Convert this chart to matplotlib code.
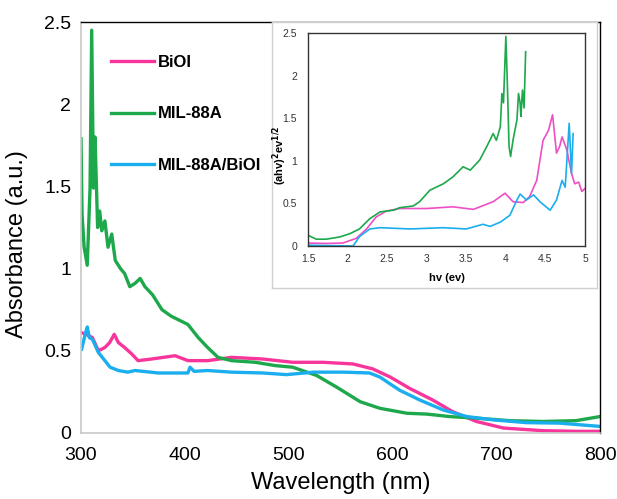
import matplotlib

matplotlib.use("Agg")

import matplotlib.pyplot as plt

plt.rcParams["font.family"] = ["Liberation Sans", "DejaVu Sans"]

# main spectra (wavelength in nm, absorbance in a.u.)
biol_wl = [300.6, 305, 311, 316.7, 323, 327.6, 332, 336, 342, 349, 355, 368, 390.6, 403,
           422, 445, 475, 504, 533, 562, 581, 598, 617, 639, 658, 681, 707, 745, 777, 800]
biol_abs = [0.61, 0.60, 0.58, 0.50, 0.52, 0.55, 0.60, 0.55, 0.52, 0.48, 0.44, 0.45, 0.47, 0.44,
            0.44, 0.46, 0.45, 0.43, 0.43, 0.42, 0.39, 0.34, 0.27, 0.20, 0.13, 0.07, 0.03, 0.014, 0.01, 0.01]

mil_wl = [300, 301, 303, 306, 308.7, 310.3, 312, 313.5, 316, 318, 320, 323, 326, 329.6, 333,
          338, 342, 347, 352, 357, 361.6, 369, 378, 387, 403, 413, 422, 432, 445, 468, 487,
          504, 527, 546, 569, 588, 614, 633, 655, 681, 713, 745, 777, 800]
mil_abs = [1.79, 1.33, 1.13, 1.02, 1.49, 2.45, 1.49, 1.80, 1.25, 1.35, 1.23, 1.29, 1.13, 1.21, 1.05,
           1.00, 0.97, 0.89, 0.91, 0.94, 0.89, 0.84, 0.75, 0.71, 0.66, 0.58, 0.52, 0.46, 0.44, 0.43, 0.41,
           0.40, 0.35, 0.28, 0.19, 0.15, 0.12, 0.115, 0.10, 0.09, 0.075, 0.07, 0.075, 0.10]

comp_wl = [300.6, 304, 306, 308, 311, 316.7, 323, 328, 336, 345, 352, 374.5, 403, 405, 409, 422,
           445, 475, 498, 524, 553, 578, 588, 607, 626.6, 649, 671.6, 697, 729, 761, 800]
comp_abs = [0.51, 0.60, 0.645, 0.58, 0.57, 0.49, 0.44, 0.40, 0.38, 0.37, 0.38, 0.365, 0.365, 0.40, 0.375, 0.38,
            0.37, 0.365, 0.355, 0.37, 0.37, 0.365, 0.34, 0.26, 0.20, 0.14, 0.10, 0.08, 0.063, 0.06, 0.04]

# inset Tauc plot (hv in eV)
biol_ev = [1.5, 1.73, 1.94, 2.11, 2.24, 2.36, 2.49, 2.66, 3.00, 3.33, 3.59, 3.84, 3.99, 4.09, 4.22,
           4.30, 4.39, 4.47, 4.54, 4.59, 4.64, 4.68, 4.71, 4.77, 4.83, 4.87, 4.92, 4.96, 5.0]
biol_tauc = [0.035, 0.03, 0.035, 0.09, 0.20, 0.34, 0.41, 0.44, 0.44, 0.46, 0.43, 0.52, 0.62, 0.52, 0.51,
             0.58, 0.77, 1.24, 1.36, 1.54, 1.09, 1.17, 1.28, 1.13, 0.85, 0.73, 0.75, 0.64, 0.675]

mil_ev = [1.5, 1.605, 1.73, 1.90, 2.03, 2.15, 2.28, 2.41, 2.58, 2.66, 2.83, 2.91, 3.04, 3.21, 3.33,
          3.46, 3.55, 3.63, 3.67, 3.76, 3.84, 3.88, 3.93, 3.95, 3.97, 4.00, 4.02, 4.04, 4.06, 4.09,
          4.14, 4.16, 4.18, 4.19, 4.21, 4.23, 4.25]
mil_tauc = [0.126, 0.08, 0.08, 0.106, 0.145, 0.20, 0.32, 0.40, 0.42, 0.45, 0.47, 0.52, 0.655, 0.73, 0.81,
            0.93, 0.89, 0.97, 1.01, 1.17, 1.32, 1.24, 1.40, 1.79, 1.68, 2.46, 1.87, 1.17, 1.05, 1.24,
            1.48, 1.79, 1.68, 1.52, 1.83, 1.62, 2.28]

comp_ev = [1.5, 1.73, 2.07, 2.15, 2.28, 2.41, 2.79, 3.21, 3.50, 3.71, 3.80, 3.93, 4.05, 4.14, 4.18,
           4.26, 4.35, 4.43, 4.56, 4.64, 4.71, 4.75, 4.80, 4.83, 4.85]
comp_tauc = [0.01, 0.005, 0.0, 0.11, 0.20, 0.215, 0.20, 0.215, 0.20, 0.255, 0.23, 0.28, 0.36, 0.54, 0.61,
             0.54, 0.60, 0.52, 0.42, 0.54, 0.77, 0.69, 1.44, 0.85, 1.32]

PINK = "#F8359A"
GREEN = "#1DA84C"
BLUE = "#1AAEEE"
INSET_PINK = "#EE4FC4"

fig = plt.figure(figsize=(6.17, 4.99), dpi=100)
ax = fig.add_axes([0.1313, 0.1323, 0.8411, 0.8236])

ax.plot(biol_wl, biol_abs, color=PINK, lw=2.4, label="BiOI")
ax.plot(mil_wl, mil_abs, color=GREEN, lw=2.4, label="MIL-88A")
ax.plot(comp_wl, comp_abs, color=BLUE, lw=2.4, label="MIL-88A/BiOI")

ax.set_xlim(300, 800)
ax.set_ylim(0, 2.5)
ax.set_xticks([300, 400, 500, 600, 700, 800])
ax.set_yticks([0, 0.5, 1, 1.5, 2, 2.5])
ax.set_yticklabels(["0", "0.5", "1", "1.5", "2", "2.5"])
ax.tick_params(length=0, labelsize=14)
ax.tick_params(axis="x", pad=10)
ax.tick_params(axis="y", pad=7)
ax.set_xlabel("Wavelength (nm)", fontsize=17, labelpad=6)
ax.set_ylabel("Absorbance (a.u.)", fontsize=17)
ax.yaxis.set_label_coords(-0.102, 0.459)
for side in ["left", "bottom"]:
    ax.spines[side].set_color("#c8c8c8")
    ax.spines[side].set_linewidth(1.2)
for side in ["top", "right"]:
    ax.spines[side].set_color("black")
    ax.spines[side].set_linewidth(1.0)

leg = ax.legend(loc="upper left", bbox_to_anchor=(0.028, 0.957), frameon=False,
                handlelength=2.6, handletextpad=0.25, labelspacing=2.2,
                prop={"weight": "bold", "size": 12})

# light grey frame around the inset picture
box = fig.add_axes([272 / 617, 1 - 288 / 499, 325 / 617, 266 / 499])
box.set_xticks([])
box.set_yticks([])
for spine in box.spines.values():
    spine.set_color("#d0d0d0")
    spine.set_linewidth(1.0)

inset = fig.add_axes([308 / 617, 1 - 246 / 499, 277 / 617, 213 / 499])
inset.plot(biol_ev, biol_tauc, color=INSET_PINK, lw=1.2)
inset.plot(mil_ev, mil_tauc, color=GREEN, lw=1.2)
inset.plot(comp_ev, comp_tauc, color=BLUE, lw=1.2)
inset.set_xlim(1.5, 5)
inset.set_ylim(0, 2.5)
inset.set_xticks([1.5, 2, 2.5, 3, 3.5, 4, 4.5, 5])
inset.set_xticklabels(["1.5", "2", "2.5", "3", "3.5", "4", "4.5", "5"])
inset.set_yticks([0, 0.5, 1, 1.5, 2, 2.5])
inset.set_yticklabels(["0", "0.5", "1", "1.5", "2", "2.5"])
inset.tick_params(length=0, labelsize=7.5, colors="#333333")
inset.tick_params(axis="x", pad=6)
inset.tick_params(axis="y", pad=8)
inset.set_xlabel("hv (ev)", fontsize=8, fontweight="bold", labelpad=6)
inset.set_ylabel(r"(ahv)$^{\mathbf{2}}$ev$^{\mathbf{1/2}}$", fontsize=8, fontweight="bold")
inset.yaxis.set_label_coords(-0.069, 0.427)
for spine in inset.spines.values():
    spine.set_color("#333333")
    spine.set_linewidth(1.0)

fig.savefig("out.png", dpi=100)
